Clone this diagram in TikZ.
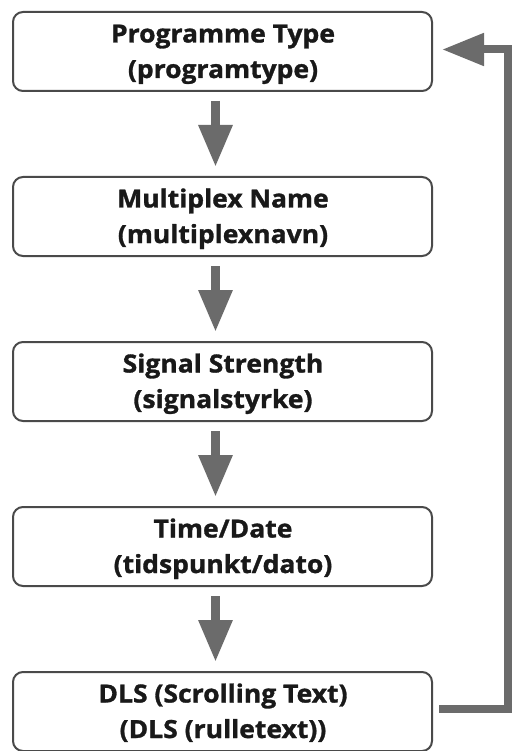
\documentclass[tikz,border=0pt]{standalone}
\usepackage{fontspec}
\setmainfont{Open Sans}[FakeStretch=1.06, BoldFeatures={FakeBold=1.2}]
\usetikzlibrary{arrows.meta,calc}
\definecolor{boxline}{HTML}{4A4A4A}
\definecolor{arrowgray}{HTML}{6B6B6B}
\begin{document}
\begin{tikzpicture}[x=1pt,y=-1pt,
  stepbox/.style={draw=boxline, line width=2pt, rounded corners=10pt, fill=white,
    minimum width=419pt, minimum height=79pt, inner sep=0pt, anchor=north west},
  lbl/.style={anchor=base, inner sep=0pt, font=\fontsize{25}{28}\selectfont\bfseries, text=black!90},
  flow/.style={draw=arrowgray, line width=9pt, -{Triangle[width=32pt,length=42pt]}},
  back/.style={draw=arrowgray, line width=8pt, -{Triangle[width=31pt,length=42pt]}}]
\useasboundingbox[fill=white] (0,0) rectangle (515,751);
\node[stepbox] (b1) at (12,11) {};
\node[stepbox] (b2) at (12,176) {};
\node[stepbox] (b3) at (12,341) {};
\node[stepbox] (b4) at (12,506) {};
\node[stepbox] (b5) at (12,671) {};
\foreach \b/\ta/\tb in {b1/Programme Type/(programtype), b2/Multiplex Name/(multiplexnavn), b3/Signal Strength/(signalstyrke), b4/Time\slash Date/(tidspunkt\slash dato), b5/DLS (Scrolling Text)/(DLS (rulletext))}{
  \node[lbl] (\b a) at ($(\b.north)+(0.5,31.5)$) {\ta};
  \node[lbl] (\b b) at ($(\b.north)+(0.5,67)$) {\tb};
}
\draw[flow] ($(b1.south)+(-7,9)$) -- ($(b2.north)+(-7,-9)$);
\draw[flow] ($(b2.south)+(-7,9)$) -- ($(b3.north)+(-7,-9)$);
\draw[flow] ($(b3.south)+(-7,9)$) -- ($(b4.north)+(-7,-9)$);
\draw[flow] ($(b4.south)+(-7,9)$) -- ($(b5.north)+(-7,-9)$);
\coordinate (turn) at ($(b5.east)+(75,-3)$);
\draw[back] ($(b5.east)+(6,-3)$) -- (turn) |- ($(b1.east)+(9,-2)$);
\end{tikzpicture}
\end{document}
